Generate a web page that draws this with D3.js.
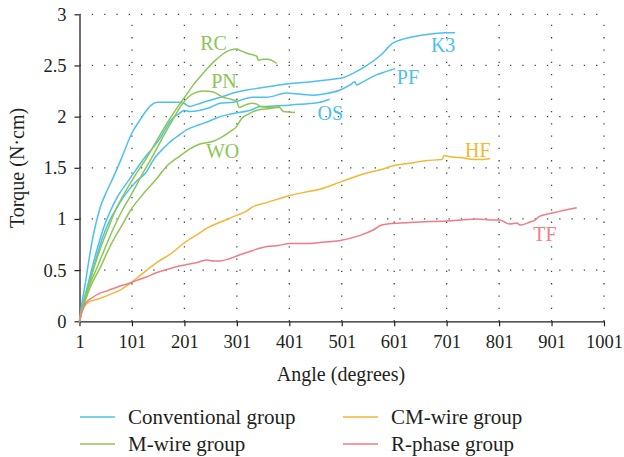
<!DOCTYPE html>
<html>
<head>
<meta charset="utf-8">
<script src="https://cdn.jsdelivr.net/npm/d3@7/dist/d3.min.js"></script>
<style>
  html, body { margin: 0; padding: 0; background: #fff; }
  svg { display: block; }
</style>
</head>
<body>
<svg id="chart" width="624" height="457" font-family="Liberation Serif"></svg>
<script>
// Torque vs. rotation angle, one [angle, torque] array per file system
const K3 = [[1,0],[4,0.12],[8,0.25],[13,0.4],[19,0.6],[25,0.78],[33,0.97],[41,1.12],[52,1.26],[63,1.38],[80,1.58],[101,1.84],[118,1.98],[130,2.07],[137,2.11],[150,2.14],[170,2.14],[191,2.14],[200,2.13],[211,2.1],[225,2.12],[243,2.15],[270,2.19],[294,2.23],[320,2.26],[345,2.28],[370,2.3],[396,2.32],[421,2.33],[459,2.35],[490,2.37],[503,2.38],[525,2.43],[549,2.5],[575,2.6],[599,2.72],[620,2.76],[637,2.78],[675,2.81],[700,2.82],[717,2.82]];
const PF = [[1,0],[5,0.12],[10,0.22],[19,0.4],[30,0.62],[40,0.8],[51,0.97],[60,1.08],[75,1.23],[95,1.38],[110,1.49],[127,1.61],[140,1.69],[156,1.8],[165,1.88],[172,1.94],[182,2.0],[191,2.03],[200,2.06],[212,2.05],[229,2.06],[250,2.09],[269,2.13],[294,2.14],[331,2.19],[358,2.19],[396,2.23],[420,2.22],[447,2.21],[465,2.22],[498,2.26],[517,2.31],[526,2.34],[529,2.31],[545,2.35],[568,2.41],[585,2.44],[603,2.47]];
const OS = [[1,0],[5,0.11],[10,0.2],[20,0.38],[32,0.6],[45,0.82],[58,0.98],[70,1.09],[90,1.25],[110,1.37],[127,1.45],[145,1.6],[165,1.71],[180,1.78],[191,1.82],[205,1.87],[229,1.92],[250,1.96],[269,2.0],[294,2.03],[331,2.07],[345,2.1],[358,2.1],[396,2.11],[420,2.12],[459,2.14],[478,2.17]];
const RC = [[1,0],[5,0.1],[12,0.24],[20,0.38],[29,0.53],[40,0.7],[55,0.9],[70,1.09],[90,1.28],[110,1.45],[127,1.58],[150,1.78],[172,1.97],[193,2.13],[207,2.23],[218,2.31],[231,2.39],[243,2.46],[256,2.53],[269,2.59],[288,2.65],[301,2.66],[310,2.64],[320,2.62],[339,2.59],[342,2.55],[350,2.56],[360,2.56],[377,2.52]];
const PN = [[1,0],[5,0.09],[12,0.22],[20,0.35],[35,0.53],[50,0.72],[65,0.9],[83,1.09],[100,1.24],[120,1.43],[140,1.61],[160,1.8],[180,1.98],[195,2.11],[208,2.19],[220,2.23],[237,2.25],[256,2.24],[275,2.19],[290,2.17],[301,2.15],[305,2.09],[320,2.12],[330,2.13],[340,2.12],[345,2.1],[370,2.09],[382,2.09],[390,2.05],[412,2.04]];
const WO = [[1,0],[5,0.09],[12,0.2],[22,0.34],[41,0.53],[60,0.74],[80,0.92],[99,1.09],[120,1.23],[146,1.38],[170,1.53],[191,1.61],[210,1.68],[229,1.73],[256,1.76],[269,1.79],[290,1.86],[300,1.9],[310,1.98],[325,2.03],[345,2.07],[365,2.08],[383,2.1]];
const HF = [[1,0],[5,0.08],[10,0.14],[19,0.19],[38,0.22],[63,0.27],[80,0.31],[95,0.36],[110,0.42],[127,0.49],[150,0.58],[178,0.67],[199,0.76],[229,0.86],[244,0.91],[270,0.97],[294,1.02],[320,1.08],[332,1.12],[358,1.16],[402,1.23],[440,1.27],[459,1.29],[498,1.36],[549,1.45],[574,1.48],[599,1.52],[637,1.55],[660,1.57],[692,1.58],[696,1.62],[705,1.61],[726,1.6],[758,1.58],[770,1.58],[784,1.59]];
const TF = [[1,0],[5,0.08],[13,0.18],[25,0.23],[38,0.27],[55,0.3],[76,0.34],[95,0.37],[110,0.4],[127,0.43],[150,0.48],[170,0.51],[191,0.54],[229,0.58],[244,0.6],[256,0.59],[269,0.59],[307,0.65],[330,0.69],[358,0.73],[380,0.74],[402,0.76],[434,0.76],[459,0.77],[498,0.79],[536,0.84],[560,0.89],[577,0.94],[612,0.96],[650,0.97],[701,0.98],[730,0.99],[758,1.0],[790,0.99],[803,0.99],[815,0.96],[822,0.95],[835,0.96],[841,0.94],[860,0.97],[870,0.99],[876,1.02],[904,1.06],[930,1.09],[949,1.11]];

const groups = ["Conventional group", "M-wire group", "CM-wire group", "R-phase group"];
const groupColors = ["#4cc0ee", "#8cc653", "#f6b633", "#f27b84"];

const seriesNames = ["K3", "PF", "OS", "RC", "PN", "WO", "HF", "TF"];
const seriesData = [K3, PF, OS, RC, PN, WO, HF, TF];
const seriesGroup = [0, 0, 0, 1, 1, 1, 2, 3];
// label anchor: [angle, torque] of the text's left baseline
const labelAt = [[671, 2.63], [606, 2.32], [455, 1.97], [231, 2.65], [252, 2.28], [242, 1.6], [736, 1.61], [866, 0.78]];

const xTicks = [1, 101, 201, 301, 401, 501, 601, 701, 801, 901, 1001];
const yTicks = [0, 0.5, 1, 1.5, 2, 2.5, 3];
const yTickLabels = ["0", "0.5", "1", "1.5", "2", "2.5", "3"];

const FONT = "'Liberation Serif', 'Times New Roman', serif";
const INK = "#231f20";

const svg = d3.select("#chart");
const x = d3.scaleLinear().domain([1, 1001]).range([79.5, 604]);
const y = d3.scaleLinear().domain([0, 3]).range([321.3, 14.3]);

// dotted grid
const grid = svg.append("g").attr("stroke", "#444").attr("stroke-width", 1.3)
  .attr("stroke-dasharray", "1.3,11");
grid.selectAll("line.h").data(yTicks.slice(1)).join("line")
  .attr("x1", x(1)).attr("x2", x(1001))
  .attr("y1", d => y(d)).attr("y2", d => y(d));
grid.selectAll("line.v").data(xTicks.slice(1)).join("line")
  .attr("x1", d => x(d)).attr("x2", d => x(d))
  .attr("y1", y(0)).attr("y2", y(3));

// axes
const xAxis = d3.axisBottom(x).tickValues(xTicks).tickFormat(d3.format("d"))
  .tickSize(5).tickSizeOuter(0).tickPadding(9);
const yAxis = d3.axisLeft(y).tickValues(yTicks).tickFormat((d, i) => yTickLabels[i])
  .tickSize(5).tickSizeOuter(0).tickPadding(8);

const gx = svg.append("g").attr("transform", `translate(0,${y(0)})`).call(xAxis);
const gy = svg.append("g").attr("transform", `translate(${x(1)},0)`).call(yAxis);
[gx, gy].forEach(g => {
  g.attr("font-family", null).attr("font-size", null);
  g.select(".domain").attr("stroke", INK).attr("stroke-width", 1.3);
  g.selectAll(".tick line").attr("stroke", INK).attr("stroke-width", 1.2);
  g.selectAll(".tick text").style("font-family", FONT).style("font-size", "18.5px").attr("fill", INK);
});

// axis titles
svg.append("text").attr("x", 341).attr("y", 381).attr("text-anchor", "middle")
  .style("font-family", FONT).style("font-size", "20px").attr("fill", INK)
  .text("Angle (degrees)");
svg.append("text").attr("transform", "translate(24,168) rotate(-90)").attr("text-anchor", "middle")
  .style("font-family", FONT).style("font-size", "20px").attr("fill", INK)
  .text("Torque (N·cm)");

// curves
const line = d3.line().x(d => x(d[0])).y(d => y(d[1])).curve(d3.curveMonotoneX);
const plot = svg.append("g");
seriesData.forEach((data, i) => {
  plot.append("path").datum(data)
    .attr("fill", "none")
    .attr("stroke", groupColors[seriesGroup[i]])
    .attr("stroke-width", 1.5)
    .attr("stroke-linejoin", "round")
    .attr("d", line);
});

// curve labels
seriesNames.forEach((name, i) => {
  svg.append("text")
    .attr("x", x(labelAt[i][0])).attr("y", y(labelAt[i][1]))
    .style("font-family", FONT).style("font-size", "20px")
    .attr("fill", groupColors[seriesGroup[i]])
    .text(name);
});

// legend
const legendPos = [[80, 417], [80, 444], [343, 417], [343, 444]];
groups.forEach((g, i) => {
  const [lx, ly] = legendPos[i];
  svg.append("line").attr("x1", lx).attr("x2", lx + 35).attr("y1", ly).attr("y2", ly)
    .attr("stroke", groupColors[i]).attr("stroke-width", 1.6);
  svg.append("text").attr("x", lx + 48).attr("y", ly).attr("dy", "0.33em")
    .style("font-family", FONT).style("font-size", "21px").attr("fill", INK)
    .text(g);
});
</script>
</body>
</html>
